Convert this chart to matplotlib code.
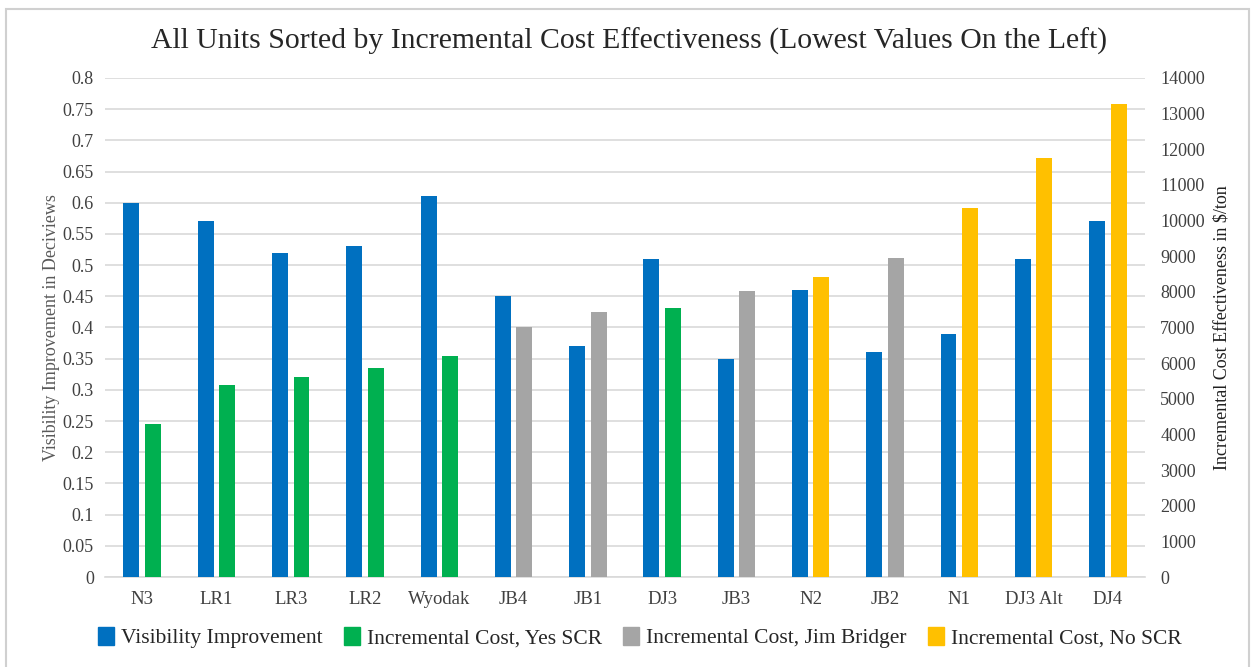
import matplotlib
matplotlib.use("Agg")
import matplotlib.pyplot as plt
import numpy as np
from matplotlib.patches import Rectangle, Patch

units = ["N3", "LR1", "LR3", "LR2", "Wyodak", "JB4", "JB1", "DJ3", "JB3",
         "N2", "JB2", "N1", "DJ3 Alt", "DJ4"]
visibility = [0.60, 0.57, 0.52, 0.53, 0.61, 0.45, 0.37, 0.51, 0.35,
              0.46, 0.36, 0.39, 0.51, 0.57]
incremental_cost = [4280, 5400, 5620, 5850, 6190, 7010, 7430, 7560, 8010,
                    8430, 8950, 10360, 11760, 13280]
cost_group = ["Yes SCR", "Yes SCR", "Yes SCR", "Yes SCR", "Yes SCR",
              "Jim Bridger", "Jim Bridger", "Yes SCR", "Jim Bridger",
              "No SCR", "Jim Bridger", "No SCR", "No SCR", "No SCR"]

group_colors = {"Yes SCR": "#00B050", "Jim Bridger": "#A5A5A5", "No SCR": "#FFC000"}
blue = "#0070C0"

plt.rcParams["font.family"] = ["Liberation Serif", "DejaVu Serif"]
txt = "#404040"

fig = plt.figure(figsize=(12.52, 6.67), dpi=100)
fig.patches.append(Rectangle((0.005, -0.01), 0.993, 0.997, transform=fig.transFigure,
                             fill=False, edgecolor="#d0d0d0", linewidth=1.5))

ax = fig.add_axes([0.0839, 0.1349, 0.8306, 0.7482])
ax2 = ax.twinx()

x = np.arange(len(units))
w = 0.215
off = 0.145
ax.bar(x - off, visibility, width=w, color=blue, zorder=3)
ax2.bar(x + off, incremental_cost, width=w,
        color=[group_colors[g] for g in cost_group], zorder=3)

ax.set_xlim(-0.5, len(units) - 0.5)
ax.set_ylim(0, 0.8)
ax2.set_ylim(0, 14000)
ax.set_yticks(np.arange(0, 0.801, 0.05))
ax.set_yticklabels(["0" if v == 0 else f"{v:g}" for v in np.round(np.arange(0, 0.801, 0.05), 2)])
ax2.set_yticks(np.arange(0, 14001, 1000))
ax2.set_yticklabels([str(v) for v in range(0, 14001, 1000)])

ax.set_xticks(x)
ax.set_xticklabels(units)
ax.yaxis.grid(True, color="#d9d9d9", linewidth=1.2, zorder=0)
ax.set_axisbelow(True)

for a in (ax, ax2):
    for s in a.spines.values():
        s.set_visible(False)
    a.tick_params(length=0, labelsize=13, colors=txt)
ax.spines["bottom"].set_visible(True)
ax.spines["bottom"].set_color("#d9d9d9")
ax.spines["bottom"].set_linewidth(1.2)
ax.tick_params(axis="x", pad=10, labelsize=13.5)
ax.tick_params(axis="y", pad=8)
ax2.tick_params(axis="y", pad=11)

ax.set_ylabel("Visibility Improvement in Deciviews", fontsize=13, color="#595959", labelpad=2)
ax2.set_ylabel("Incremental Cost Effectiveness in $/ton", fontsize=13, color="#202020", labelpad=6)

fig.text(0.502, 0.938, "All Units Sorted by Incremental Cost Effectiveness (Lowest Values On the Left)",
         ha="center", va="center", fontsize=21.4, color="#262626")

handles = [Patch(color=blue, label="Visibility Improvement"),
           Patch(color=group_colors["Yes SCR"], label="Incremental Cost, Yes SCR"),
           Patch(color=group_colors["Jim Bridger"], label="Incremental Cost, Jim Bridger"),
           Patch(color=group_colors["No SCR"], label="Incremental Cost, No SCR")]
fig.legend(handles=handles, loc="center", bbox_to_anchor=(0.511, 0.044), ncol=4,
           frameon=False, fontsize=15.5, handlelength=0.75, handleheight=0.9,
           handletextpad=0.3, columnspacing=1.0, labelcolor="#262626")

fig.savefig("out.png", dpi=100)
